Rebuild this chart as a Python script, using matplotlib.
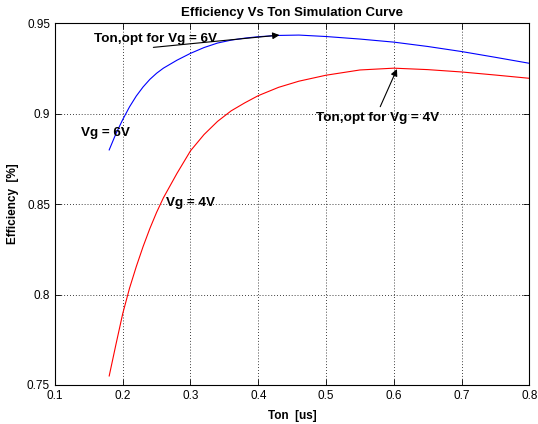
import matplotlib
matplotlib.use("Agg")
import matplotlib.pyplot as plt

ton = [0.18, 0.19, 0.2, 0.21, 0.22, 0.23, 0.24, 0.25, 0.26, 0.28, 0.3, 0.32, 0.34, 0.36, 0.38,
       0.4, 0.43, 0.46, 0.5, 0.55, 0.6, 0.65, 0.7, 0.75, 0.8]
eff_6v = [0.880, 0.889, 0.8968, 0.9038, 0.9098, 0.9148, 0.919, 0.9224, 0.9252, 0.9296, 0.9334,
          0.9366, 0.9391, 0.9407, 0.9418, 0.9426, 0.9433, 0.9435, 0.9427, 0.9413, 0.9396,
          0.9372, 0.9344, 0.9312, 0.9279]
eff_4v = [0.755, 0.7725, 0.7895, 0.8035, 0.8155, 0.8265, 0.8365, 0.8455, 0.8535, 0.867, 0.8795,
          0.8885, 0.8958, 0.9016, 0.906, 0.9100, 0.9146, 0.918, 0.9213, 0.9242, 0.9252,
          0.9244, 0.9231, 0.9214, 0.9196]

xticks = [0.1, 0.2, 0.3, 0.4, 0.5, 0.6, 0.7, 0.8]
yticks = [0.75, 0.8, 0.85, 0.9, 0.95]
xtick_labels = ["0.1", "0.2", "0.3", "0.4", "0.5", "0.6", "0.7", "0.8"]
ytick_labels = ["0.75", "0.8", "0.85", "0.9", "0.95"]

plt.rcParams['font.family'] = ['Liberation Sans', 'DejaVu Sans']

fig = plt.figure(figsize=(5.38, 4.24), dpi=100)
ax = fig.add_axes([0.1022, 0.092, 0.8816, 0.853])

ax.plot(ton, eff_6v, color='#0000ff', lw=0.8)
ax.plot(ton, eff_4v, color='#ff0000', lw=0.8)

ax.set_xlim(0.1, 0.8)
ax.set_ylim(0.75, 0.95)
ax.set_xticks(xticks)
ax.set_xticklabels(xtick_labels)
ax.set_yticks(yticks)
ax.set_yticklabels(ytick_labels)
ax.tick_params(direction='in', top=True, right=True, labelsize=8.5, length=4, width=0.6, colors='black')
ax.grid(True, linestyle=(0, (1, 2.5)), color='black', lw=0.6)
for s in ax.spines.values():
    s.set_linewidth(0.8)

ax.set_title("Efficiency Vs Ton Simulation Curve", fontsize=9.5, fontweight='bold', pad=5)
ax.set_xlabel("Ton  [us]", fontsize=8.5, fontweight='bold', labelpad=6)
ax.set_ylabel("Efficiency  [%]", fontsize=8.5, fontweight='bold', labelpad=6)

arrow_kw = dict(arrowstyle='-|>', color='black', lw=0.8, shrinkA=0, shrinkB=0, mutation_scale=10)
ax.text(0.1576, 0.9412, "Ton,opt for Vg = 6V", fontsize=9.7, fontweight='bold', va='center', ha='left')
ax.annotate("", xy=(0.4313, 0.9435), xytext=(0.2452, 0.9367), arrowprops=arrow_kw)
ax.text(0.4845, 0.8975, "Ton,opt for Vg = 4V", fontsize=9.7, fontweight='bold', va='center', ha='left')
ax.annotate("", xy=(0.6047, 0.9247), xytext=(0.580, 0.9039), arrowprops=arrow_kw)
ax.text(0.138, 0.8895, "Vg = 6V", fontsize=9.7, fontweight='bold', va='center', ha='left')
ax.text(0.264, 0.8505, "Vg = 4V", fontsize=9.7, fontweight='bold', va='center', ha='left')

fig.savefig("out.png", dpi=100)
